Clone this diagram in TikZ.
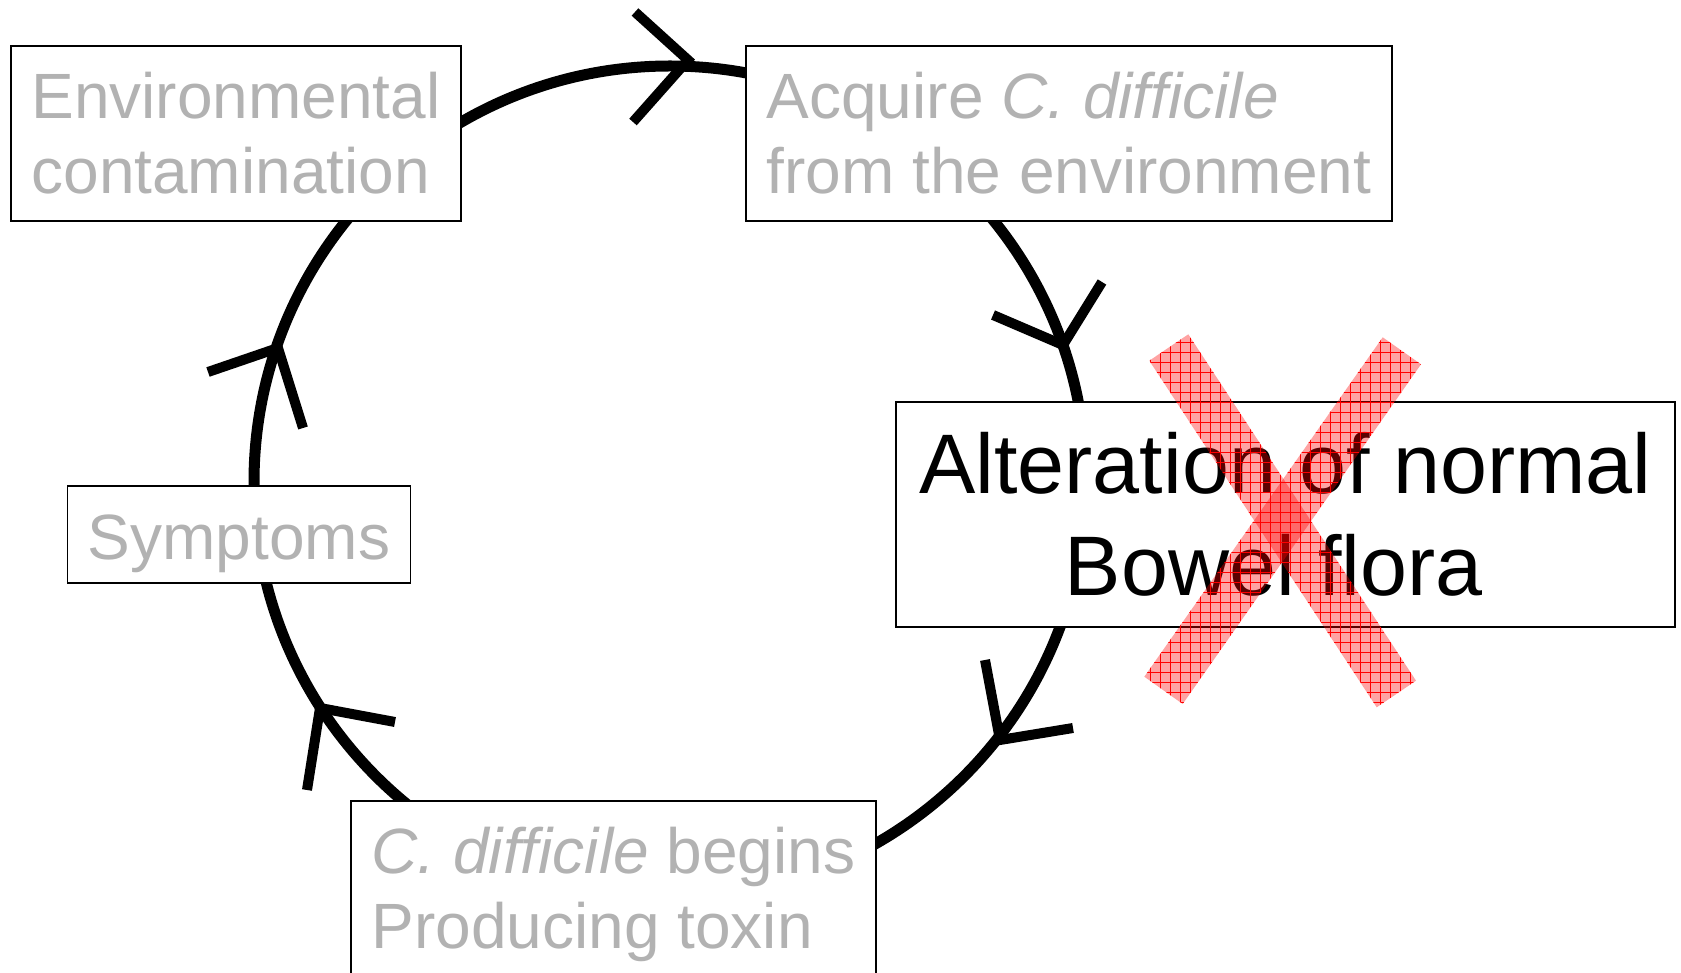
\documentclass[tikz,border=0pt]{standalone}
\usepackage{fontspec}
\setmainfont{Liberation Sans}
\usetikzlibrary{patterns.meta}
\definecolor{txtgray}{RGB}{178,178,178}
\begin{document}
\begin{tikzpicture}[x=1pt,y=1pt,
  box/.style={draw=black, line width=1.6pt, fill=white, inner sep=0pt, text=txtgray,
              font=\fontsize{64pt}{75pt}\selectfont},
  cyc/.style={line width=11pt},
  chev/.style={line width=10pt, line join=miter},
  xbar/.style={fill=red, fill opacity=0.36},
  xhatch/.style={pattern={Hatch[distance=10pt,angle=0,line width=0.5pt]}, pattern color=red, fill opacity=0.18}]
\useasboundingbox (0,0) rectangle (1681,972);
\clip (0,0) rectangle (1681,972);
\fill[white] (0,0) rectangle (1681,972);
% cycle
\coordinate (C) at (670,490);
\draw[cyc] (C) circle[radius=416pt];
% arrowheads (clockwise)
\draw[chev] (635,960) -- (688,912) -- (633,850);
\draw[chev] (993,657) -- (1063,627) -- (1102,690);
\draw[chev] (985,312) -- (1000,232) -- (1073,244);
\draw[chev] (307,182) -- (320,264) -- (395,250);
\draw[chev] (208,600) -- (278,624) -- (303,544);
% boxes
\node[box, minimum width=450pt, minimum height=175pt, align=left] (env) at (236,838.5)
  {Environmental\\contamination};
\node[box, minimum width=646pt, minimum height=175pt, align=left] (acq) at (1069,838.5)
  {Acquire \textit{C. difficile}\\from the environment};
\node[box, minimum width=779pt, minimum height=225pt, align=center, text=black,
      font=\fontsize{84.5pt}{102pt}\selectfont] (alt) at (1285.5,457.5)
  {Alteration of normal\\Bowel flora\hspace*{0.278em}};
\node[box, minimum width=343pt, minimum height=97pt, text height=64pt, text depth=14pt] (sym) at (239,437.5)
  {Symptoms};
\node[box, minimum width=524.5pt, minimum height=186pt, align=left] (tox) at (613.5,78)
  {\textit{C. difficile} begins\\Producing toxin};
% red cross
\path[xbar] (1149.3,611.3) -- (1188.3,637.7) -- (1416,291.3) -- (1376.7,264.7) -- cycle;
\path[xbar] (1382.7,634.7) -- (1421,607.7) -- (1182.7,268) -- (1144.3,295.3) -- cycle;
\path[xhatch] (1149.3,611.3) -- (1188.3,637.7) -- (1416,291.3) -- (1376.7,264.7) -- cycle;
\path[xhatch] (1382.7,634.7) -- (1421,607.7) -- (1182.7,268) -- (1144.3,295.3) -- cycle;
\end{tikzpicture}
\end{document}
